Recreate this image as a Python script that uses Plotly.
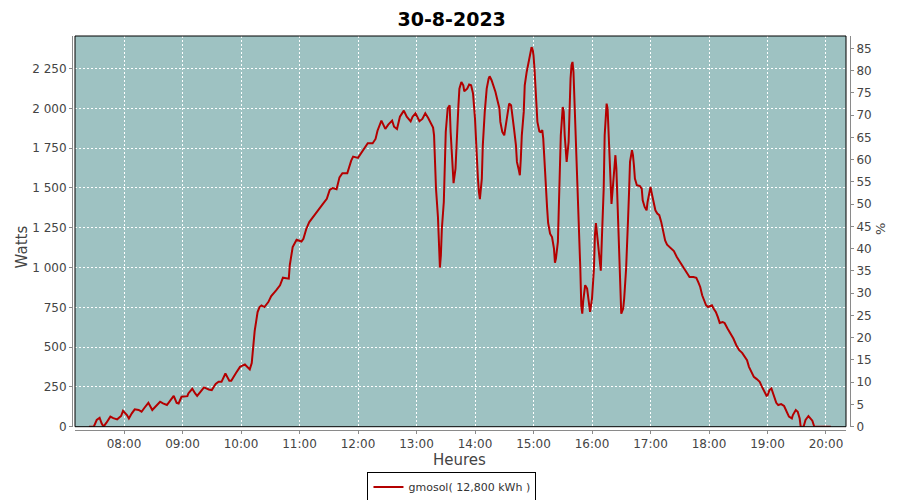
import plotly.graph_objects as go

DATE = "2023-08-30"
TITLE = "30-8-2023"
SERIES_NAME = "gmosol( 12,800 kWh )"

times = [
    "07:24", "07:29", "07:32", "07:35", "07:37", "07:39", "07:42", "07:46", "07:49", "07:53",
    "07:57", "07:59", "08:03", "08:05", "08:08", "08:11", "08:15", "08:18", "08:21", "08:25",
    "08:29", "08:33", "08:37", "08:40", "08:44", "08:47", "08:51", "08:54", "08:56", "08:59",
    "09:05", "09:06", "09:10", "09:13", "09:15", "09:19", "09:22", "09:27", "09:30", "09:34",
    "09:37", "09:40", "09:44", "09:48", "09:50", "09:55", "09:59", "10:04", "10:07", "10:09",
    "10:11", "10:12", "10:14", "10:17", "10:19", "10:21", "10:24", "10:28", "10:31", "10:36",
    "10:40", "10:43", "10:49", "10:50", "10:53", "10:57", "11:02", "11:04", "11:07", "11:10",
    "11:15", "11:19", "11:24", "11:28", "11:31", "11:34", "11:38", "11:41", "11:44", "11:49",
    "11:53", "11:55", "12:00", "12:03", "12:07", "12:10", "12:15", "12:18", "12:20", "12:24",
    "12:28", "12:31", "12:35", "12:37", "12:40", "12:43", "12:47", "12:50", "12:54", "12:56",
    "12:59", "13:03", "13:06", "13:09", "13:12", "13:15", "13:17", "13:18", "13:19", "13:20",
    "13:22", "13:23", "13:24", "13:25", "13:26", "13:28", "13:29", "13:30", "13:32", "13:34",
    "13:35", "13:36", "13:37", "13:38", "13:40", "13:41", "13:43", "13:44", "13:46", "13:48",
    "13:49", "13:52", "13:54", "13:56", "13:58", "14:00", "14:01", "14:03", "14:04", "14:05",
    "14:07", "14:08", "14:10", "14:12", "14:14", "14:15", "14:17", "14:19", "14:21", "14:23",
    "14:25", "14:26", "14:28", "14:30", "14:31", "14:33", "14:35", "14:37", "14:38", "14:40",
    "14:42", "14:43", "14:45", "14:46", "14:47", "14:48", "14:50", "14:51", "14:53", "14:55",
    "14:57", "14:58", "14:59", "15:00", "15:01", "15:02", "15:03", "15:04", "15:06", "15:07",
    "15:09", "15:10", "15:11", "15:12", "15:13", "15:14", "15:15", "15:17", "15:19", "15:21",
    "15:22", "15:23", "15:25", "15:26", "15:27", "15:28", "15:30", "15:31", "15:32", "15:33",
    "15:34", "15:36", "15:37", "15:38", "15:39", "15:40", "15:41", "15:42", "15:43", "15:44",
    "15:46", "15:47", "15:48", "15:49", "15:50", "15:51", "15:53", "15:55", "15:57", "15:58",
    "16:00", "16:02", "16:03", "16:04", "16:06", "16:08", "16:09", "16:10", "16:12", "16:13",
    "16:15", "16:16", "16:17", "16:19", "16:20", "16:21", "16:23", "16:24", "16:25", "16:26",
    "16:27", "16:28", "16:29", "16:30", "16:32", "16:33", "16:35", "16:36", "16:37", "16:38",
    "16:39", "16:41", "16:42", "16:43", "16:44", "16:46", "16:49", "16:51", "16:52", "16:54",
    "16:56", "16:57", "16:59", "17:00", "17:01", "17:03", "17:05", "17:07", "17:09", "17:11",
    "17:13", "17:15", "17:17", "17:20", "17:24", "17:27", "17:30", "17:34", "17:37", "17:40",
    "17:44", "17:47", "17:49", "17:51", "17:53", "17:55", "17:57", "17:59", "18:01", "18:03",
    "18:05", "18:07", "18:09", "18:11", "18:14", "18:16", "18:19", "18:22", "18:25", "18:28",
    "18:31", "18:34", "18:36", "18:39", "18:41", "18:44", "18:46", "18:49", "18:52", "18:54",
    "18:56", "18:59", "19:00", "19:02", "19:04", "19:06", "19:09", "19:11", "19:14", "19:17",
    "19:20", "19:22", "19:25", "19:26", "19:29", "19:31", "19:33", "19:34", "19:37", "19:39",
    "19:42", "19:44", "19:46", "19:48", "20:05",
]

watts = [
    0, 0, 42, 56, 21, 0, 25, 63, 54, 46,
    67, 100, 73, 52, 84, 109, 105, 94, 119, 150,
    105, 130, 157, 146, 136, 161, 194, 150, 146, 188,
    192, 209, 238, 209, 194, 224, 247, 234, 230, 268,
    282, 282, 334, 289, 289, 339, 376, 391, 376, 360,
    400, 481, 600, 720, 752, 762, 752, 783, 821, 857,
    888, 936, 930, 1014, 1129, 1175, 1164, 1181, 1244, 1286,
    1323, 1359, 1400, 1432, 1488, 1500, 1492, 1567, 1593, 1593,
    1672, 1697, 1689, 1718, 1756, 1781, 1781, 1808, 1860, 1923,
    1871, 1898, 1923, 1885, 1871, 1948, 1986, 1948, 1919, 1948,
    1969, 1919, 1934, 1969, 1940, 1900, 1880, 1831, 1664, 1496,
    1318, 1172, 1000, 1078, 1244, 1412, 1601, 1852, 2001, 2020,
    1852, 1727, 1580, 1530, 1622, 1789, 2020, 2124, 2166, 2145,
    2108, 2124, 2150, 2145, 2093, 1936, 1789, 1559, 1475, 1430,
    1559, 1768, 1978, 2124, 2187, 2202, 2177, 2145, 2103, 2051,
    2001, 1915, 1852, 1831, 1873, 1957, 2030, 2020, 1978, 1873,
    1768, 1664, 1611, 1580, 1685, 1831, 1978, 2145, 2229, 2292,
    2355, 2384, 2376, 2334, 2250, 2124, 2020, 1915, 1856, 1852,
    1863, 1810, 1700, 1560, 1450, 1370, 1280, 1213, 1192, 1119,
    1030, 1057, 1161, 1350, 1580, 1831, 2009, 1978, 1831, 1700,
    1664, 1789, 2041, 2187, 2271, 2292, 2229, 2062, 1873, 1727,
    1433, 1203, 994, 760, 710, 790, 889, 868, 784, 722,
    805, 994, 1203, 1280, 1161, 1057, 980, 1161, 1496, 1831,
    2030, 1999, 1831, 1580, 1400, 1475, 1622, 1706, 1622, 1412,
    1203, 994, 784, 710, 743, 805, 994, 1119, 1307, 1475,
    1664, 1737, 1706, 1643, 1559, 1517, 1513, 1496, 1423, 1381,
    1360, 1412, 1496, 1507, 1475, 1412, 1360, 1339, 1329, 1287,
    1224, 1171, 1144, 1129, 1104, 1066, 1035, 999, 966, 941,
    941, 936, 909, 878, 826, 794, 763, 752, 757, 763,
    740, 721, 690, 652, 658, 652, 617, 585, 554, 512,
    481, 464, 443, 418, 376, 334, 313, 299, 282, 255,
    230, 194, 196, 230, 240, 209, 150, 136, 142, 130,
    94, 63, 52, 73, 105, 94, 52, 0, 0, 42,
    67, 52, 38, 0, 0,
]

watt_ticks = [0, 250, 500, 750, 1000, 1250, 1500, 1750, 2000, 2250]
watt_tick_labels = ["0", "250", "500", "750", "1 000", "1 250", "1 500", "1 750", "2 000", "2 250"]
pct_ticks = [0, 5, 10, 15, 20, 25, 30, 35, 40, 45, 50, 55, 60, 65, 70, 75, 80, 85]

x_vals = [f"{DATE} {t}" for t in times]

GRID = dict(showgrid=True, gridcolor="white", gridwidth=1, griddash="2px,2px")
AXLINE = dict(showline=True, linecolor="#8a8a8a", linewidth=1, ticks="outside",
              ticklen=3, tickcolor="#8a8a8a", tickfont=dict(size=12, color="#444444",
              family="DejaVu Sans"), zeroline=False)
LABEL_FONT = dict(family="DejaVu Sans", size=15, color="#444444")

fig = go.Figure()
fig.add_trace(go.Scatter(
    x=x_vals, y=watts, mode="lines", name=SERIES_NAME,
    line=dict(color="#B40000", width=2), hoverinfo="skip",
))
fig.add_trace(go.Scatter(
    x=[x_vals[0]], y=[None], yaxis="y2", mode="lines", showlegend=False, hoverinfo="skip",
))

fig.update_layout(
    width=900, height=500,
    margin=dict(l=64, r=58, t=28, b=78),
    paper_bgcolor="white",
    plot_bgcolor="#9EC2C2",
    title=dict(text=TITLE, x=0.493, xanchor="center", y=0.978, yanchor="middle",
               font=dict(family="DejaVu Sans", size=19, color="black", weight="bold")),
    xaxis=dict(
        domain=[0.00386, 0.99486], anchor="free", position=0,
        type="date",
        range=[f"{DATE} 07:09:44", f"{DATE} 20:20:31"],
        tickformat="%H:%M", dtick=3600000, tick0=f"{DATE} 08:00",
        automargin=False,
        **GRID, **AXLINE,
    ),
    yaxis=dict(
        domain=[0.0084, 1], anchor="free", position=0,
        range=[0, 2455], tickvals=watt_ticks, ticktext=watt_tick_labels,
        automargin=False,
        **GRID, **AXLINE,
    ),
    yaxis2=dict(
        overlaying="y", side="right", anchor="free", position=1,
        range=[0, 87.8], tickvals=pct_ticks, showgrid=False, automargin=False,
        **AXLINE,
    ),
    shapes=[dict(type="rect", xref="x domain", yref="y domain", x0=0, x1=1, y0=0, y1=1,
                 line=dict(color="black", width=1), layer="above")],
    annotations=[
        dict(text="Watts", xref="paper", yref="paper", x=-0.064, y=0.464, textangle=-90,
             xanchor="center", yanchor="middle", showarrow=False, font=LABEL_FONT),
        dict(text="Heures", xref="paper", yref="paper", x=0.4987, y=-0.076,
             xanchor="center", yanchor="middle", showarrow=False, font=LABEL_FONT),
        dict(text="%", xref="paper", yref="paper", x=1.0386, y=0.51, textangle=-90,
             xanchor="center", yanchor="middle", showarrow=False,
             font=dict(family="DejaVu Sans", size=13, color="#444444")),
    ],
    legend=dict(orientation="h", xref="container", x=0.4933, xanchor="center",
                yref="container", y=0.042, yanchor="middle",
                bgcolor="white", bordercolor="black", borderwidth=1, itemwidth=30,
                font=dict(family="DejaVu Sans", size=11, color="#333333")),
    showlegend=True,
)

fig.write_html("out.html")
